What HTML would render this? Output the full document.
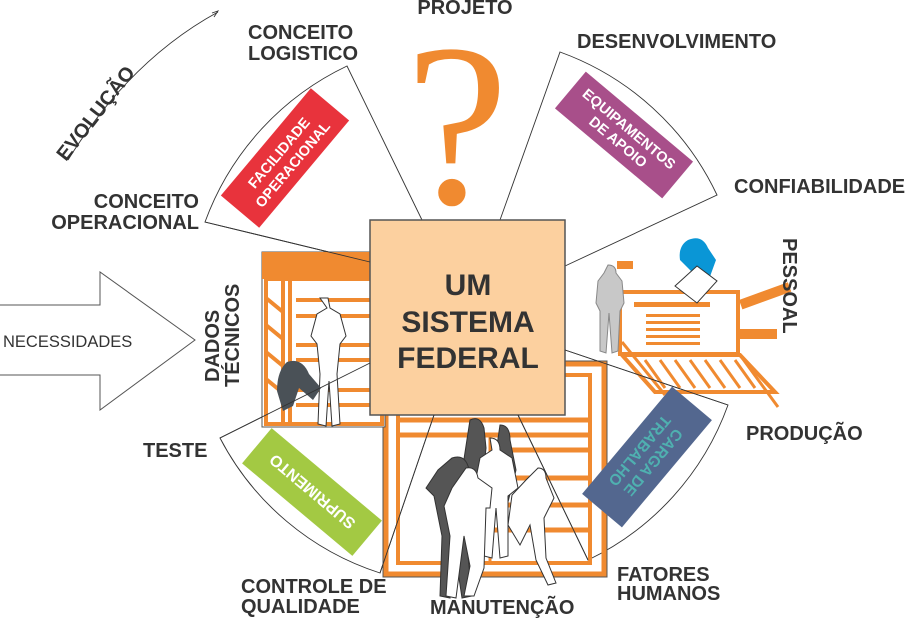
<!DOCTYPE html>
<html><head><meta charset="utf-8"><style>
html,body{margin:0;padding:0;background:#fff;}
svg{display:block}
text{font-family:"Liberation Sans",sans-serif;font-weight:bold;fill:#333;}
</style></head><body>
<svg width="905" height="619" viewBox="0 0 905 619" xmlns="http://www.w3.org/2000/svg">
<g fill="none" stroke="#333" stroke-width="0.9">
<path d="M370,262 L205,222 A278,278 0 0 1 347,66 L422,220"/>
<path d="M500,220 L560,52 A278,278 0 0 1 717,195 L565,266"/>
<path d="M370,363 L220,438 A275,275 0 0 0 380,573 L434,415"/>
<path d="M518,415 L588,560 A275,275 0 0 0 728,405 L565,350"/>
<path d="M68,160 Q130,60 218,12"/>
<path d="M212,13 L218,11 L214,17"/>
</g>
<text x="457" y="203" font-size="232" text-anchor="middle" style="font-family:'Liberation Serif',serif;font-weight:normal;fill:#f08a30">?</text>

<g fill="none" stroke="#f08a30" stroke-width="5">
<rect x="386" y="364" width="218" height="210"/>
<rect x="398" y="375" width="192" height="188" stroke-width="4"/>
<line x1="398" y1="420" x2="590" y2="420"/>
<line x1="398" y1="435" x2="590" y2="435"/>
<line x1="490" y1="450" x2="590" y2="450"/>
<line x1="490" y1="478" x2="590" y2="478"/>
<line x1="490" y1="505" x2="590" y2="505"/>
<line x1="490" y1="530" x2="590" y2="530"/>
<line x1="490" y1="435" x2="490" y2="563" stroke-width="3"/>
</g>
<rect x="383" y="361" width="224" height="216" fill="none" stroke="#555" stroke-width="1"/>
<rect x="262" y="252" width="123" height="175" fill="#fff" stroke="#555" stroke-width="1"/>
<rect x="262" y="252" width="123" height="27" fill="#f08a30"/>
<g stroke="#f08a30" stroke-width="4" fill="none">
<rect x="266" y="279" width="116" height="145"/>
<line x1="283" y1="279" x2="283" y2="424"/>
<line x1="290" y1="279" x2="290" y2="424"/>
<line x1="266" y1="298" x2="283" y2="312"/><line x1="266" y1="325" x2="283" y2="339"/>
<line x1="266" y1="352" x2="283" y2="366"/><line x1="266" y1="379" x2="283" y2="393"/>
<line x1="296" y1="300" x2="382" y2="300"/><line x1="296" y1="316" x2="382" y2="316"/>
<line x1="296" y1="345" x2="382" y2="345"/><line x1="296" y1="360" x2="382" y2="360"/>
<line x1="296" y1="390" x2="382" y2="390"/><line x1="296" y1="405" x2="382" y2="405"/>
</g>
<g fill="#fff" stroke="#333" stroke-width="1">
<path d="M320,298 l8,0 l2,10 l10,6 l6,22 l-6,8 l-3,30 l3,50 l-8,2 l-3,-45 l-3,45 l-8,-2 l2,-50 l-3,-30 l-6,-8 l6,-22 l10,-6z"/>
</g>
<path d="M287,362 q15,-5 22,12 l12,14 l-8,12 l-14,-12 l-6,18 l-10,5 l-6,-20 q0,-20 10,-29z" fill="#4a5157"/>
<rect x="370" y="220" width="195" height="195" fill="#fcd09f" stroke="#555" stroke-width="1.5"/>
<text x="468" y="295" font-size="30" text-anchor="middle">UM</text>
<text x="468" y="332" font-size="30" text-anchor="middle">SISTEMA</text>
<text x="468" y="368" font-size="30" text-anchor="middle">FEDERAL</text>
<g stroke="#333" stroke-width="0.9" fill="none">
<line x1="205" y1="222" x2="370" y2="262"/>
<line x1="220" y1="438" x2="370" y2="363"/>
</g>
<g stroke="#333" stroke-width="1">
<path d="M470,420 q10,-5 14,8 l2,20 l-2,20 l-16,40 l-10,-10z" fill="#555"/>
<path d="M500,425 q10,0 10,15 l6,30 l-10,40 l-14,-30z" fill="#555"/>
<path d="M452,458 q12,-4 16,8 l10,22 l-8,8 l-2,60 l4,40 l-10,2 l-6,-40 l-6,40 l-10,-2 l2,-60 l-8,-40 l-8,-8 l12,-18z" fill="#555"/>
<path d="M490,438 q10,0 10,12 l12,8 l6,30 l-10,8 l0,60 l-8,2 l-4,-50 l-4,50 l-8,-2 l0,-60 l-10,-8 l6,-30 l12,-8z" fill="#fff"/>
<path d="M466,468 q10,-2 12,10 l14,10 l-2,20 l-4,0 l-2,60 l-10,28 l-10,0 l6,-30 l-6,-30 l-8,62 l-10,-2 l4,-60 l-6,-30 l8,-18z" fill="#fff"/>
<path d="M538,468 q8,0 8,10 l8,20 l-10,20 l2,40 l10,25 l-8,2 l-12,-25 l-6,-35 l-10,20 l-12,-20 l4,-30 l14,-15z" fill="#fff"/>
</g>
<g stroke="#333" stroke-width="0.9" fill="none">
<line x1="380" y1="573" x2="434" y2="415"/>
<line x1="518" y1="415" x2="588" y2="560"/>
</g>
<g fill="#f08a30">
<rect x="739" y="300" width="52" height="10" transform="rotate(-20 739 300)"/>
<rect x="727" y="329" width="50" height="10"/>
<rect x="617" y="261" width="16" height="8"/>
</g>
<rect x="620" y="292" width="118" height="62" fill="#fff" stroke="#f08a30" stroke-width="4"/>
<g fill="#f08a30">
<rect x="634" y="302" width="76" height="5"/>
<rect x="646" y="314" width="54" height="3"/><rect x="646" y="321" width="54" height="3"/>
<rect x="646" y="328" width="54" height="3"/><rect x="646" y="335" width="54" height="3"/><rect x="646" y="342" width="54" height="3"/>
</g>
<path d="M622,355 L740,355 L775,392 L655,392z" fill="none" stroke="#f08a30" stroke-width="4"/>
<g stroke="#f08a30" stroke-width="3">
<line x1="645" y1="360" x2="665" y2="388"/><line x1="660" y1="360" x2="680" y2="388"/>
<line x1="675" y1="360" x2="695" y2="388"/><line x1="690" y1="360" x2="710" y2="388"/>
<line x1="705" y1="360" x2="725" y2="388"/><line x1="720" y1="360" x2="740" y2="388"/>
<line x1="735" y1="360" x2="755" y2="388"/>
<line x1="740" y1="355" x2="778" y2="407"/>
<line x1="622" y1="342" x2="665" y2="395"/>
</g>
<path d="M608,265 q8,0 8,8 l6,8 l2,22 l-4,8 l-2,40 l-6,2 l-3,-40 l-3,40 l-6,-2 l0,-40 l-4,-8 l2,-22 l6,-8z" fill="#c8c8c8" stroke="#888" stroke-width="1"/>
<path d="M688,240 q14,-6 20,8 l8,12 l-8,22 l-14,-8 l-14,-14 q-2,-14 8,-20z" fill="#0a96d6"/>
<path d="M675,286 l22,-20 l20,15 l-20,22z" fill="#fff" stroke="#333" stroke-width="1"/>
<line x1="565" y1="350" x2="728" y2="405" stroke="#333" stroke-width="0.9"/>

<g transform="translate(285,158) rotate(-50)">
<rect x="-70" y="-25" width="140" height="50" fill="#e8333c"/>
<text x="0" y="-3" font-size="14.5" text-anchor="middle" style="fill:#fff">FACILIDADE</text>
<text x="0" y="15" font-size="14.5" text-anchor="middle" style="fill:#fff">OPERACIONAL</text>
</g>
<g transform="translate(624,135) rotate(40)">
<rect x="-70" y="-24" width="140" height="48" fill="#a84f8a"/>
<text x="0" y="-3" font-size="14.5" text-anchor="middle" style="fill:#fff">EQUIPAMENTOS</text>
<text x="0" y="14" font-size="14.5" text-anchor="middle" style="fill:#fff">DE APOIO</text>
</g>
<g transform="translate(312,492) rotate(40)">
<rect x="-72" y="-23" width="144" height="46" fill="#a3c943"/>
<text x="0" y="6" font-size="16" text-anchor="middle" transform="rotate(180)" style="fill:#fff">SUPRIMENTO</text>
</g>
<g transform="translate(647,457) rotate(-50)">
<rect x="-70" y="-26" width="140" height="52" fill="#53678f"/>
<g transform="rotate(180)">
<text x="0" y="-3" font-size="15.5" text-anchor="middle" style="fill:#4fb0b0">CARGA DE</text>
<text x="0" y="15" font-size="15.5" text-anchor="middle" style="fill:#4fb0b0">TRABALHO</text>
</g>
</g>

<path d="M0,305 L100,305 L100,272 L195,340 L100,410 L100,375 L0,375" fill="#fff" stroke="#555" stroke-width="1"/>
<text x="3" y="347" font-size="16.5" style="font-weight:normal">NECESSIDADES</text>

<g font-size="20">
<text x="465" y="14" text-anchor="middle">PROJETO</text>
<text x="248" y="39">CONCEITO</text>
<text x="248" y="60">LOGISTICO</text>
<text x="577" y="48">DESENVOLVIMENTO</text>
<text x="734" y="193">CONFIABILIDADE</text>
<text x="199" y="208" text-anchor="end">CONCEITO</text>
<text x="199" y="229" text-anchor="end">OPERACIONAL</text>
<text x="746" y="440">PRODUÇÃO</text>
<text x="617" y="581">FATORES</text>
<text x="617" y="600">HUMANOS</text>
<text x="430" y="614">MANUTENÇÃO</text>
<text x="241" y="593">CONTROLE DE</text>
<text x="241" y="613">QUALIDADE</text>
<text x="143" y="457">TESTE</text>
<text transform="translate(783,238) rotate(90)">PESSOAL</text>
<text transform="translate(219,382) rotate(-90)">DADOS</text>
<text transform="translate(239,387) rotate(-90)">TÉCNICOS</text>
<text transform="translate(66,162) rotate(-52)">EVOLUÇÃO</text>
</g>
</svg>
</body></html>
